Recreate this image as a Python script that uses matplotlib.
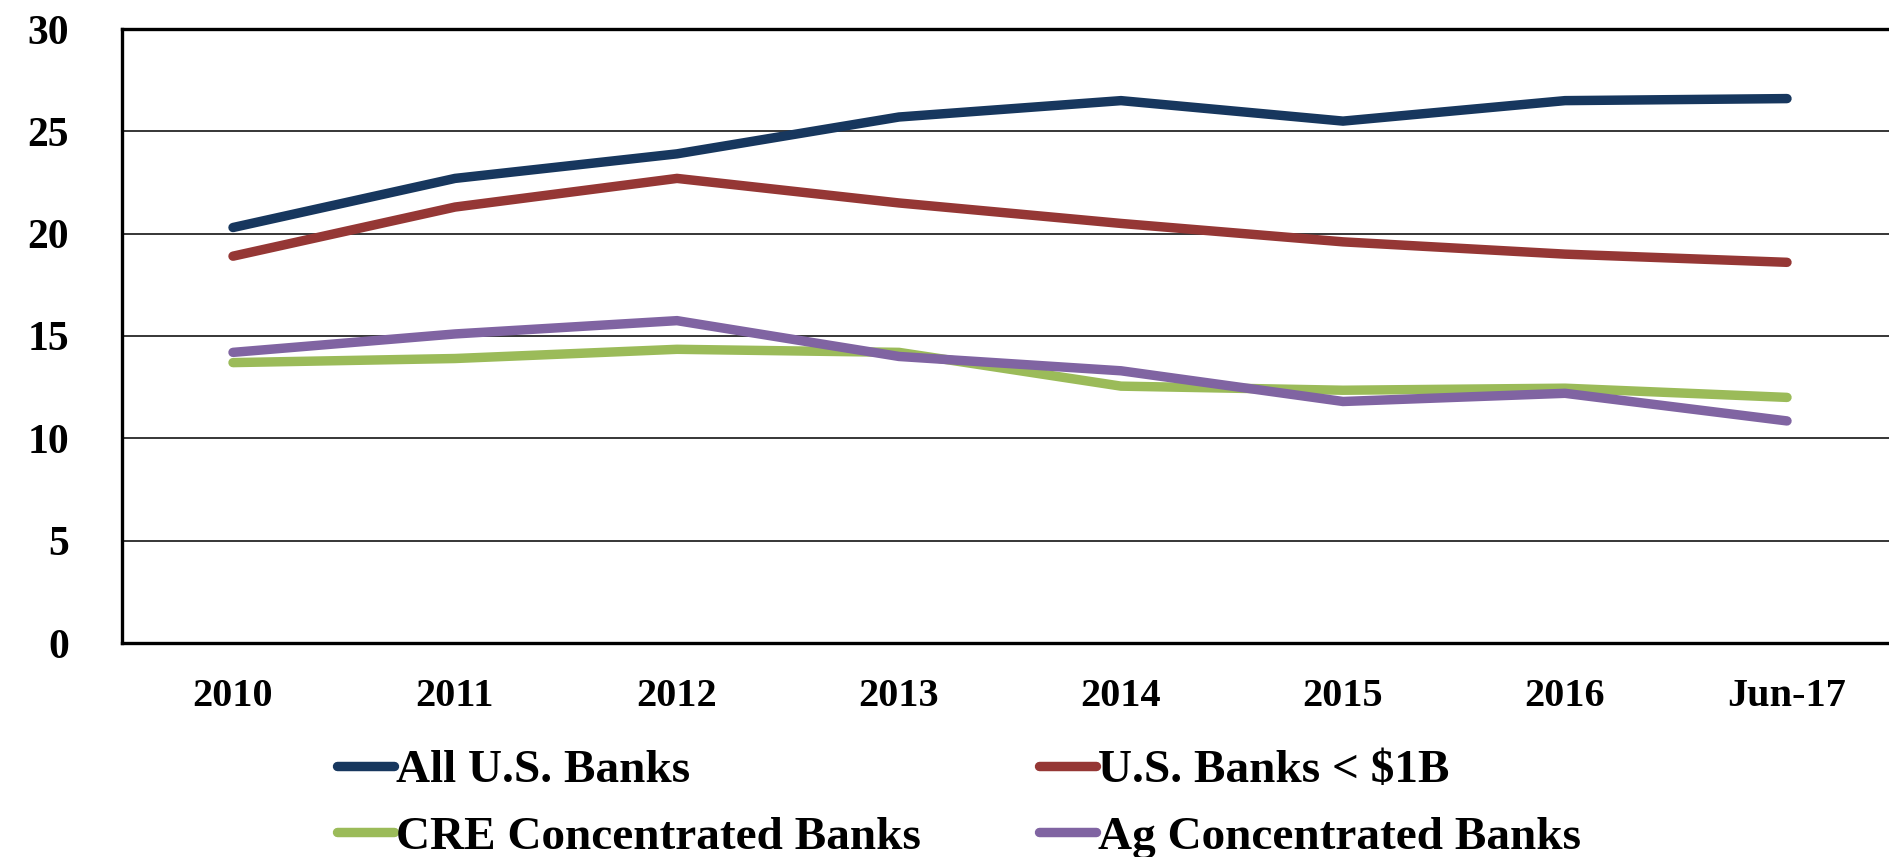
import matplotlib
matplotlib.use("Agg")
import matplotlib.pyplot as plt
import numpy as np

# values
periods = ["2010", "2011", "2012", "2013", "2014", "2015", "2016", "Jun-17"]
all_us = [20.3, 22.7, 23.9, 25.7, 26.5, 25.5, 26.5, 26.6]
small_us = [18.9, 21.3, 22.7, 21.5, 20.5, 19.6, 19.0, 18.6]
cre_conc = [13.7, 13.9, 14.35, 14.2, 12.55, 12.35, 12.45, 12.0]
ag_conc = [14.2, 15.1, 15.75, 14.0, 13.3, 11.8, 12.2, 10.85]

series_names = ["All U.S. Banks", "U.S. Banks < $1B",
                "CRE Concentrated Banks", "Ag Concentrated Banks"]
colors = ["#17375E", "#953735", "#9BBB59", "#8064A2"]

plt.rcParams['font.family'] = ['Liberation Serif', 'DejaVu Serif']
plt.rcParams['font.weight'] = 'bold'

fig = plt.figure(figsize=(18.9, 8.57), dpi=100)
ax = fig.add_axes([122 / 1890, 1 - 643 / 857, 1776 / 1890, (643 - 29) / 857])

x = np.arange(len(periods))
lines = []
for vals, name, col in zip([all_us, small_us, cre_conc, ag_conc], series_names, colors):
    ln, = ax.plot(x, vals, color=col, lw=6.8, solid_capstyle='round',
                  solid_joinstyle='miter', label=name, zorder=3)
    lines.append(ln)

ax.set_xlim(-0.5, 7.5)
ax.set_ylim(0, 30)
ax.set_yticks(range(0, 31, 5))
ax.set_xticks(x)
ax.set_xticklabels(periods)
ax.yaxis.grid(True, color='black', lw=1.1)
ax.set_axisbelow(True)
ax.tick_params(axis='y', length=0, pad=38, labelsize=30)
ax.tick_params(axis='x', length=0, pad=25, labelsize=29)
for lab in ax.get_xticklabels() + ax.get_yticklabels():
    lab.set_fontweight('bold')

for side in ['left', 'top', 'bottom']:
    ax.spines[side].set_linewidth(2.4)
    ax.spines[side].set_color('black')
ax.spines['right'].set_visible(False)

# legend fills column-wise, so order handles to read row-wise
order = [0, 2, 1, 3]
leg = fig.legend([lines[i] for i in order], [series_names[i] for i in order],
                 loc='upper left', bbox_to_anchor=(337 / 1890, 1 - 749 / 857),
                 ncol=2, frameon=False, fontsize=34, handlelength=1.2,
                 handletextpad=0.05, columnspacing=2.5, labelspacing=0.5,
                 borderpad=0, borderaxespad=0)
for t in leg.get_texts():
    t.set_fontweight('bold')

fig.savefig("out.png", dpi=100)
